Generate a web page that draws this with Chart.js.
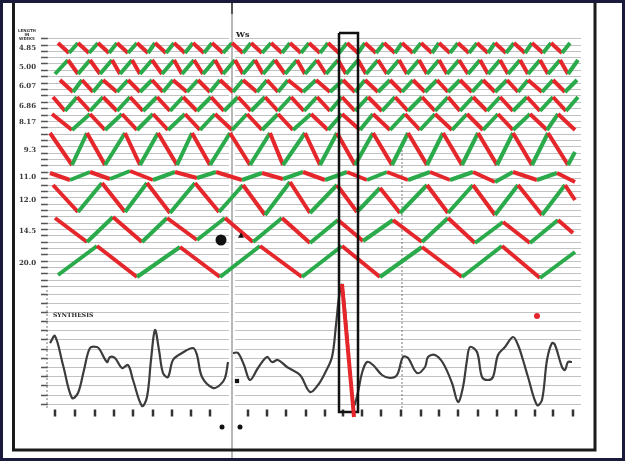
<!DOCTYPE html>
<html>
<head>
<meta charset="utf-8">
<script src="https://cdn.jsdelivr.net/npm/chart.js@4.4.1/dist/chart.umd.min.js"></script>
<style>
  html, body { margin: 0; padding: 0; background: #fff; }
  #wrap { width: 625px; height: 461px; }
</style>
</head>
<body>
<div id="wrap"><canvas id="hurst" width="625" height="461"></canvas></div>
<script>
// time axis is in weeks, vertical axis is position down the sheet
const rowLabels = ['4.85', '5.00', '6.07', '6.86', '8.17', '9.3', '11.0', '12.0', '14.5', '20.0'];
const rowLabelLevels = [48, 67, 86, 106, 122, 150, 177, 200, 231, 263];

const cycleTimes = [
  [0.25, 3, 5.25, 8, 10.25, 13, 15, 17.75, 20, 22.75, 24.5, 27.25, 29.25, 32, 34, 36.75, 38.75, 41.5, 43.75, 46.5, 48.5, 51.25, 53.5, 56.25, 58.25, 61, 63, 65.75, 67.75, 70.5, 72.5, 75.25, 77, 79.75, 81.75, 84.5, 86.25, 89, 91, 93.75, 95.5, 98.25, 100.25, 103, 105, 107.75, 109.5, 112.25, 114.25, 117, 118.75, 121.5, 123.5, 126.25, 128.25],
  [-0.5, 2.75, 5.25, 8.25, 10.75, 13.75, 15.75, 18.75, 20.75, 23.75, 26.25, 29.25, 31.25, 34.25, 36.5, 39.5, 41.5, 44.5, 46.5, 49.5, 51.5, 54.5, 57, 60, 62, 65, 67.25, 70.25, 72.25, 75.25, 77.25, 80.25, 82.5, 85.5, 87.5, 90.5, 92.5, 95.5, 97.5, 100.5, 102.75, 105.75, 107.75, 110.75, 112.75, 115.75, 117.75, 120.75, 122.75, 125.75, 127.75, 130.25],
  [0.75, 4, 6.25, 9, 11.5, 15, 17.75, 20.75, 23.75, 26.5, 29, 32.5, 35.25, 38.25, 40.75, 44, 46.5, 50, 52.5, 55.25, 57.75, 61.5, 64.75, 68.25, 71.5, 74.5, 77, 80.25, 83.25, 86.25, 89, 92, 95, 97.75, 100.75, 103.75, 106.5, 109.5, 112.5, 115.25, 117.75, 121.25, 124, 127, 130],
  [-1, 2, 5, 8.25, 11.5, 15, 18.25, 21.5, 25, 28.25, 31.5, 35, 38.5, 41.75, 45.25, 48.5, 52, 55.25, 58.5, 61.75, 65, 68.25, 71.25, 74.5, 77.75, 81.25, 84.5, 87.75, 91.25, 94.5, 97.75, 100.75, 104, 107.5, 110.75, 114, 117.5, 120.75, 124, 127.25, 130.25],
  [-1.25, 3.75, 8.25, 12, 16.25, 20, 24, 27.75, 32, 35.75, 39.5, 43.75, 47.5, 51.25, 55.25, 59, 63.5, 67.75, 71.25, 75.75, 79, 83.25, 87, 90.75, 94.5, 98.75, 102.5, 106.5, 110.25, 114, 118.25, 122.5, 125.25, 129.5],
  [-1.75, 3.75, 7.5, 12, 17, 20.75, 25.25, 30, 33.75, 38.25, 43.25, 48.25, 53.25, 56.5, 62, 65.75, 70, 74.5, 79, 83.75, 87.75, 92.5, 96.5, 101.25, 105.25, 110, 114, 118.75, 122.75, 127.75, 129.5],
  [-1.75, 3.25, 8.25, 13.25, 18.25, 24, 29.5, 35, 39.75, 46.25, 51.25, 56.5, 61.5, 67, 72.5, 77.5, 82.5, 87.75, 93.25, 98.25, 104, 109.5, 114, 120, 125, 129.5],
  [-1, 5.25, 11.25, 17, 22.5, 28.25, 34.5, 40.5, 46.5, 52, 58.25, 63.25, 70, 75, 80.75, 85.75, 92.5, 97.75, 104, 109.5, 115.25, 121.25, 127, 129.5],
  [-0.5, 7.5, 14, 21.25, 27.5, 35, 42, 49, 56.25, 63.25, 70.25, 76.5, 84, 91.25, 97.75, 104.5, 111.5, 118.25, 125.25, 129],
  [0.25, 10, 20, 30.75, 40.75, 50.75, 61.25, 71.25, 80.75, 91.25, 101.25, 111.25, 120.75, 129.5]
];

const cycleLevels = [
  [43, 53, 43, 53, 43, 53, 43, 53, 43, 53, 43, 53, 43, 53, 43, 53, 43, 53, 43, 53, 43, 53, 43, 53, 43, 53, 43, 53, 43, 53, 43, 53, 43, 53, 43, 53, 43, 53, 43, 53, 43, 53, 43, 53, 43, 53, 43, 53, 43, 53, 43, 53, 43, 53, 43],
  [74, 60, 74, 60, 74, 60, 74, 60, 74, 60, 74, 60, 74, 60, 74, 60, 74, 60, 74, 60, 74, 60, 74, 60, 74, 60, 74, 60, 74, 60, 74, 60, 74, 60, 74, 60, 74, 60, 74, 60, 74, 60, 74, 60, 74, 60, 74, 60, 74, 60, 74, 60],
  [80, 92, 80, 92, 80, 92, 80, 92, 80, 92, 80, 92, 80, 92, 80, 92, 80, 92, 80, 92, 80, 92, 80, 92, 80, 92, 80, 92, 80, 92, 80, 92, 80, 92, 80, 92, 80, 92, 80, 92, 80, 92, 80, 92, 80],
  [97, 111, 97, 111, 97, 111, 97, 111, 97, 111, 97, 111, 97, 111, 97, 111, 97, 111, 97, 111, 97, 111, 97, 111, 97, 111, 97, 111, 97, 111, 97, 111, 97, 111, 97, 111, 97, 111, 97, 111, 97],
  [114, 130, 114, 130, 114, 130, 114, 130, 114, 130, 114, 130, 114, 130, 114, 130, 114, 130, 114, 130, 114, 130, 114, 130, 114, 130, 114, 130, 114, 130, 114, 130, 114, 130],
  [133, 165, 133, 165, 133, 165, 133, 165, 133, 165, 133, 165, 133, 165, 133, 165, 133, 165, 133, 165, 133, 165, 133, 165, 133, 165, 133, 165, 133, 165, 152],
  [173, 180, 172, 179, 171, 180, 172, 178, 172, 180, 173, 179, 172, 180, 172, 180, 172, 180, 172, 180, 172, 182, 172, 180, 173, 182],
  [185, 212, 183, 212, 183, 213, 183, 212, 185, 215, 182, 213, 185, 212, 188, 213, 185, 213, 185, 215, 185, 215, 185, 200],
  [218, 242, 217, 242, 218, 240, 218, 242, 218, 243, 220, 241, 220, 242, 218, 243, 222, 243, 220, 233],
  [275, 246, 277, 247, 277, 246, 277, 246, 277, 247, 277, 246, 278, 252]
];

// composite curve (null = break at the page fold)
const synthWeeks = [-1.75, -0.5, 1.5, 3.75, 5.25, 6.75, 8.25, 10, 10.75, 12.5, 13.25, 14.5, 16.25, 17.75, 19, 21.25, 22.5, 23.5, 24.5, 25.5, 26.5, 27.75, 29, 31.25, 34, 35, 36.25, 39, 40.75, 42, 42.75, 43.5,
  44, 45.25, 46.75, 48.25, 50.25, 52.5, 53.75, 55.25, 57.5, 60.75, 63.25, 65.25, 67, 68.75, 69.75, 70.5, 71.25, 72.25, 73.25, 74.25, 75.25, 76.25, 77.5, 79, 81.25, 83.25, 85, 86.5, 87.75, 90, 92, 92.75, 94.5, 96.5, 98.75, 100.25, 101.5, 102.5, 103.25, 105, 106.25, 107.75, 109, 110.25, 112, 114, 115.25, 116.5, 117.75, 120, 121.25, 122.5, 123.75, 124.5, 126.25, 127, 127.75, 128.75];
const synthLevels = [343, 336, 365, 398, 393, 370, 348, 347, 350, 362, 357, 358, 368, 365, 380, 406, 397, 360, 330, 350, 373, 377, 360, 353, 348, 355, 377, 388, 385, 378, 362, null,
  353, 353, 365, 380, 368, 357, 362, 360, 367, 375, 392, 385, 373, 357, 325, 297, 285, 320, 370, 405, 392, 373, 362, 365, 375, 378, 375, 357, 358, 373, 367, 357, 355, 363, 383, 402, 387, 360, 347, 352, 377, 380, 377, 355, 347, 337, 345, 360, 377, 405, 400, 360, 343, 345, 367, 370, 362, 362];

// marked week and its window
const markerWeeks = [71.25, 74.25];
const markerLevels = [284, 417];
const windowWeeks = [70.5, 75.25];
const windowLevels = [33, 412];

// week ticks along the foot of the sheet
const footTicks = [-0.5, 4.5, 9.5, 14.25, 19, 24, 28.75, 33.5, 38.25, 47.75, 52.5, 57.25, 62.25, 67, 71.5, 76.25, 81, 86, 91, 95.5, 100.25, 105.25, 110, 114.75, 119.5, 124, 129];
const footLevel = 413;

// ruled lines on the sheet
const paperLines = [38, 45, 51, 57, 63, 70, 76, 83, 89, 95, 102, 108, 115, 121, 127, 134, 140, 146, 153, 159, 165, 172, 178, 185, 191, 197, 204, 210, 216, 223, 229, 235, 242, 248, 254, 261, 267, 273, 280, 286,
  294, 303, 312, 321, 330, 339, 349, 358, 367, 376, 385, 395, 404];

const RED = '#e5262b';
const GREEN = '#2aaa4a';

const rowSets = cycleTimes.map((times, i) => ({
  label: rowLabels[i],
  data: times.map((t, j) => ({ x: t, y: cycleLevels[i][j] })),
  borderColor: RED,
  borderWidth: 4,
  borderJoinStyle: 'bevel',
  pointRadius: 0,
  tension: 0,
  segment: {
    borderColor: c => (c.p1.parsed.y < c.p0.parsed.y ? GREEN : RED)
  }
}));

const paper = {
  id: 'paper',
  beforeDatasetsDraw(chart) {
    const { ctx } = chart;
    const x = chart.scales.x, y = chart.scales.y;
    const W = chart.width, H = chart.height;
    ctx.save();
    ctx.lineWidth = 1;
    ctx.strokeStyle = 'rgba(95,95,95,0.38)';
    for (const lv of paperLines) {
      const py = Math.round(y.getPixelForValue(lv)) + 0.5;
      ctx.beginPath();
      ctx.moveTo(x.getPixelForValue(-3), py);
      ctx.lineTo(x.getPixelForValue(43), py);
      ctx.moveTo(x.getPixelForValue(44.5), py);
      ctx.lineTo(x.getPixelForValue(131), py);
      ctx.stroke();
    }
    // short marks at the left scale
    ctx.strokeStyle = '#555';
    ctx.lineWidth = 1.5;
    for (const lv of paperLines) {
      const py = Math.round(y.getPixelForValue(lv)) + 0.5;
      ctx.beginPath();
      ctx.moveTo(x.getPixelForValue(-4), py);
      ctx.lineTo(x.getPixelForValue(-2.3), py);
      ctx.stroke();
    }
    // left axis of composite
    ctx.strokeStyle = '#777';
    ctx.lineWidth = 1;
    ctx.setLineDash([2, 2]);
    ctx.beginPath();
    ctx.moveTo(x.getPixelForValue(-2.5), y.getPixelForValue(290));
    ctx.lineTo(x.getPixelForValue(-2.5), y.getPixelForValue(408));
    ctx.moveTo(x.getPixelForValue(86.25), y.getPixelForValue(150));
    ctx.lineTo(x.getPixelForValue(86.25), y.getPixelForValue(410));
    ctx.stroke();
    ctx.setLineDash([]);
    // page fold
    ctx.strokeStyle = 'rgba(120,120,120,0.7)';
    ctx.lineWidth = 1.5;
    ctx.beginPath();
    ctx.moveTo(x.getPixelForValue(43.75), 0);
    ctx.lineTo(x.getPixelForValue(43.75), H);
    ctx.stroke();
    ctx.strokeStyle = '#333';
    ctx.beginPath();
    ctx.moveTo(x.getPixelForValue(43.75), 0);
    ctx.lineTo(x.getPixelForValue(43.75), y.getPixelForValue(14));
    ctx.stroke();
    // frame
    ctx.strokeStyle = '#1b1b1b';
    ctx.lineWidth = 3;
    ctx.beginPath();
    ctx.moveTo(x.getPixelForValue(-10.875), 0);
    ctx.lineTo(x.getPixelForValue(-10.875), y.getPixelForValue(450));
    ctx.lineTo(x.getPixelForValue(134.5), y.getPixelForValue(450));
    ctx.lineTo(x.getPixelForValue(134.5), 0);
    ctx.stroke();
    // scan border
    ctx.strokeStyle = '#1a1a3a';
    ctx.lineWidth = 3;
    ctx.strokeRect(1.5, 1.5, W - 3, H - 3);
    ctx.restore();
  },
  afterDatasetsDraw(chart) {
    const { ctx } = chart;
    const x = chart.scales.x, y = chart.scales.y;
    ctx.save();
    ctx.fillStyle = '#3a3a3a';
    ctx.textAlign = 'right';
    ctx.textBaseline = 'middle';
    ctx.font = 'bold 7px "DejaVu Serif"';
    rowLabels.forEach((t, i) => ctx.fillText(t, x.getPixelForValue(-5.25), y.getPixelForValue(rowLabelLevels[i])));
    ctx.textAlign = 'center';
    ctx.font = 'bold 4px "DejaVu Sans"';
    ctx.fillText('LENGTH', x.getPixelForValue(-7.5), y.getPixelForValue(31));
    ctx.fillText('IN', x.getPixelForValue(-7.5), y.getPixelForValue(35));
    ctx.fillText('WEEKS', x.getPixelForValue(-7.5), y.getPixelForValue(39));
    ctx.textAlign = 'left';
    ctx.font = 'bold 6px "DejaVu Serif"';
    ctx.fillStyle = '#222';
    ctx.fillText('SYNTHESIS', x.getPixelForValue(-1), y.getPixelForValue(315));
    ctx.font = 'bold 8px "DejaVu Serif"';
    ctx.fillText('Ws', x.getPixelForValue(44.75), y.getPixelForValue(35));
    ctx.restore();
  }
};

new Chart(document.getElementById('hurst'), {
  type: 'line',
  data: {
    datasets: [
      {
        label: 'marker',
        data: markerWeeks.map((t, j) => ({ x: t, y: markerLevels[j] })),
        borderColor: RED, borderWidth: 4, pointRadius: 0
      },
      {
        label: 'window',
        data: [
          { x: windowWeeks[0], y: windowLevels[0] }, { x: windowWeeks[1], y: windowLevels[0] },
          { x: windowWeeks[1], y: windowLevels[1] }, { x: windowWeeks[0], y: windowLevels[1] },
          { x: windowWeeks[0], y: windowLevels[0] }
        ],
        borderColor: '#111', borderWidth: 2.5, pointRadius: 0, tension: 0
      },
      {
        label: 'blemishes',
        type: 'scatter',
        data: [{ x: 41, y: 240 }, { x: 46, y: 236 }, { x: 45, y: 381 }, { x: 41.25, y: 427 }, { x: 45.75, y: 427 }, { x: 120, y: 316 }],
        pointRadius: [5.5, 3.5, 3, 2.5, 2.5, 3],
        pointStyle: ['circle', 'triangle', 'rect', 'circle', 'circle', 'circle'],
        backgroundColor: ['#111', '#111', '#111', '#111', '#111', RED],
        borderColor: ['#111', '#111', '#111', '#111', '#111', RED],
        borderWidth: 0
      },
      {
        label: 'SYNTHESIS',
        data: synthWeeks.map((t, j) => ({ x: t, y: synthLevels[j] })),
        borderColor: '#3c3c3c', borderWidth: 2.2, pointRadius: 0, tension: 0.35, spanGaps: false
      },
      ...rowSets,
      {
        label: 'weeks',
        type: 'scatter',
        data: footTicks.map(t => ({ x: t, y: footLevel })),
        pointStyle: 'line', rotation: 90, pointRadius: 3.5,
        borderColor: '#333', borderWidth: 2.5
      }
    ]
  },
  options: {
    responsive: false,
    animation: false,
    devicePixelRatio: 1,
    layout: { padding: 0, autoPadding: false },
    plugins: { legend: { display: false }, tooltip: { enabled: false } },
    scales: {
      x: { type: 'linear', min: -14.25, max: 142, display: false },
      y: { type: 'linear', min: 0, max: 461, reverse: true, display: false }
    }
  },
  plugins: [paper]
});
</script>
</body>
</html>
